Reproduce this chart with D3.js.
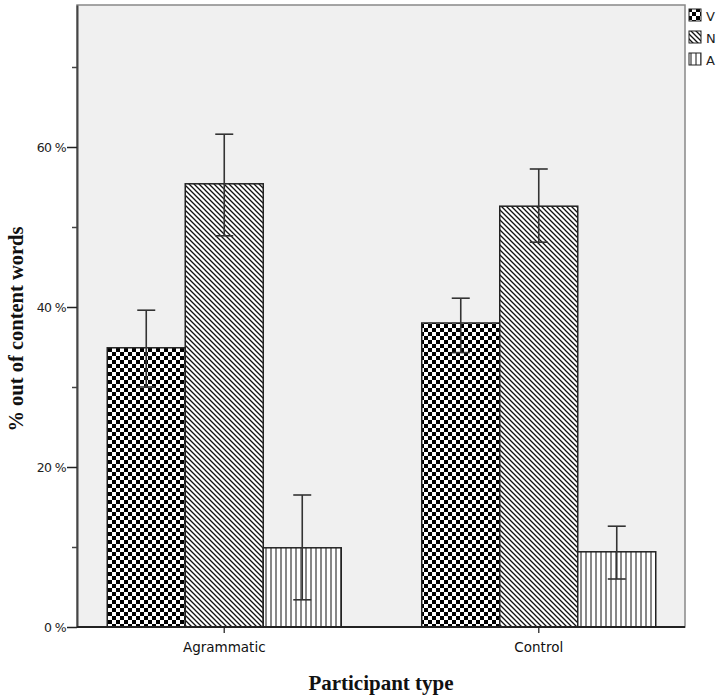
<!DOCTYPE html>
<html><head><meta charset="utf-8">
<script src="https://cdn.jsdelivr.net/npm/d3@7"></script>
<style>body{margin:0;background:#fff}svg{display:block}</style>
</head><body>
<svg id="c" width="723" height="696"></svg>
<script>
const categories = ["Agrammatic", "Control"];
const series = ["V", "N", "A"];
const meanV = [0.349, 0.380];
const meanN = [0.554, 0.526];
const meanA = [0.099, 0.094];
const loV = [0.300, 0.343];
const hiV = [0.396, 0.411];
const loN = [0.489, 0.481];
const hiN = [0.616, 0.5725];
const loA = [0.034, 0.060];
const hiA = [0.165, 0.126];
const majorTicks = [0, 0.2, 0.4, 0.6];
const minorTicks = [0.1, 0.3, 0.5, 0.7];
const yTitle = "% out of content words";
const xTitle = "Participant type";

const means = {V: meanV, N: meanN, A: meanA};
const los = {V: loV, N: loN, A: loA};
const his = {V: hiV, N: hiN, A: hiA};

const svg = d3.select("#c");
const L = 77, R = 685, T = 5, B = 627;

const defs = svg.append("defs");
// checkerboard
const pV = defs.append("pattern").attr("id","pV").attr("patternUnits","userSpaceOnUse")
  .attr("width",8).attr("height",8).attr("x",0).attr("y",0);
pV.append("rect").attr("width",8).attr("height",8).attr("fill","#fff");
pV.append("rect").attr("width",4).attr("height",4).attr("fill","#000");
pV.append("rect").attr("x",4).attr("y",4).attr("width",4).attr("height",4).attr("fill","#000");
// diagonal
const pN = defs.append("pattern").attr("id","pN").attr("patternUnits","userSpaceOnUse")
  .attr("width",5).attr("height",5);
pN.append("rect").attr("width",5).attr("height",5).attr("fill","#fff");
pN.append("path").attr("d","M-1,-1 L6,6 M-1,4 L1,6 M4,-1 L6,1").attr("stroke","#111").attr("stroke-width",1.3);
// vertical
const pA = defs.append("pattern").attr("id","pA").attr("patternUnits","userSpaceOnUse")
  .attr("width",5).attr("height",5);
pA.append("rect").attr("width",5).attr("height",5).attr("fill","#fff");
pA.append("rect").attr("x",0).attr("width",2).attr("height",5).attr("fill","#888");
const fills = {V:"url(#pV)", N:"url(#pN)", A:"url(#pA)"};

// plot background
svg.append("rect").attr("x",L).attr("y",T).attr("width",R-L).attr("height",B-T)
  .attr("fill","#f0f0f0").attr("stroke","#888").attr("stroke-width",1.5);

const y = d3.scaleLinear().domain([0, 0.7775]).range([B, T]);
const x0 = d3.scaleBand().domain(categories).range([67, 696]);
const groupW = 234;
const x1 = d3.scaleBand().domain(series)
  .range([(x0.bandwidth()-groupW)/2, (x0.bandwidth()+groupW)/2]);

// bars
categories.forEach((c,i)=>{
  series.forEach(s=>{
    const bx = x0(c)+x1(s);
    svg.append("rect").attr("x",bx).attr("y",y(means[s][i]))
      .attr("width",x1.bandwidth()).attr("height",y(0)-y(means[s][i]))
      .attr("fill",fills[s]).attr("stroke","#222").attr("stroke-width",1.5);
  });
});
// error bars
categories.forEach((c,i)=>{
  series.forEach(s=>{
    const cx = x0(c)+x1(s)+x1.bandwidth()/2;
    const g = svg.append("g").attr("stroke","#333").attr("stroke-width",1.6);
    g.append("line").attr("x1",cx).attr("x2",cx).attr("y1",y(los[s][i])).attr("y2",y(his[s][i]));
    g.append("line").attr("x1",cx-9).attr("x2",cx+9).attr("y1",y(los[s][i])).attr("y2",y(los[s][i]));
    g.append("line").attr("x1",cx-9).attr("x2",cx+9).attr("y1",y(his[s][i])).attr("y2",y(his[s][i]));
  });
});

// y axis
const yAxis = d3.axisLeft(y).tickValues(majorTicks).tickFormat(d3.format(".0%")).tickSize(10).tickSizeOuter(0);
const ya = svg.append("g").attr("transform",`translate(${L},0)`).call(yAxis);
ya.select(".domain").attr("stroke","#444").attr("stroke-width",2);
ya.selectAll(".tick line").attr("stroke","#222").attr("stroke-width",1.5);
ya.selectAll(".tick text").attr("font-family","DejaVu Sans, sans-serif").attr("font-size",12.5)
  .attr("fill","#222").attr("x",-11).text(d=>Math.round(d*100)+" %").attr("letter-spacing","-0.6");
const ym = d3.axisLeft(y).tickValues(minorTicks).tickFormat("").tickSize(5).tickSizeOuter(0);
const yma = svg.append("g").attr("transform",`translate(${L},0)`).call(ym);
yma.select(".domain").remove();
yma.selectAll(".tick line").attr("stroke","#444").attr("stroke-width",1.5);

// x axis
const xAxis = d3.axisBottom(x0).tickSize(6).tickSizeOuter(0);
const xa = svg.append("g").attr("transform",`translate(0,${B})`).call(xAxis);
xa.select(".domain").remove();
svg.append("line").attr("x1",L).attr("x2",R).attr("y1",B).attr("y2",B).attr("stroke","#222").attr("stroke-width",2);
xa.selectAll(".tick line").attr("stroke","#444").attr("stroke-width",1.5);
xa.selectAll(".tick text").attr("font-family","DejaVu Sans, sans-serif").attr("font-size",13.5)
  .attr("fill","#111").attr("dy","1.2em");

// titles
svg.append("text").attr("transform",`translate(23,329) rotate(-90)`).attr("text-anchor","middle")
  .attr("font-family","Liberation Serif, serif").attr("font-weight","bold").attr("font-size",20.5)
  .attr("fill","#111").text(yTitle);
svg.append("text").attr("x",381).attr("y",690).attr("text-anchor","middle")
  .attr("font-family","Liberation Serif, serif").attr("font-weight","bold").attr("font-size",21)
  .attr("fill","#111").text(xTitle);

// legend
const lg = svg.append("g");
series.forEach((s,i)=>{
  lg.append("rect").attr("x",689).attr("y",9+i*22).attr("width",12).attr("height",12)
    .attr("fill",fills[s]).attr("stroke","#222").attr("stroke-width",1);
  lg.append("text").attr("x",706).attr("y",21+i*22).attr("font-family","DejaVu Sans, sans-serif")
    .attr("font-size",13).attr("fill","#222").text(s);
});
</script>
</body></html>
